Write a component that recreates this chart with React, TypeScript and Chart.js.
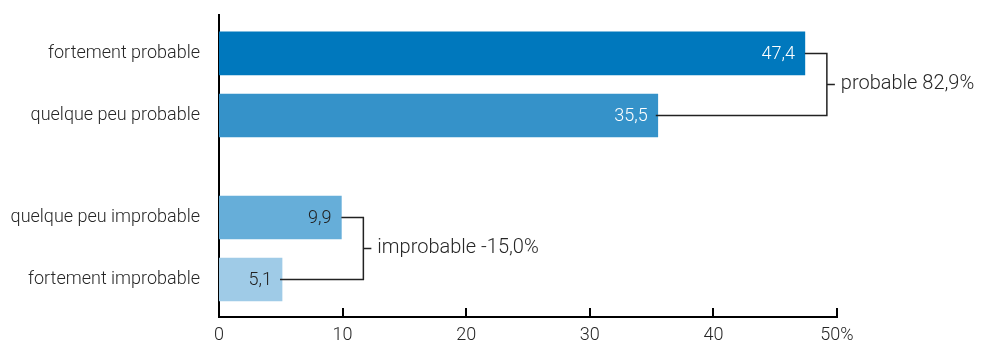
import React, { useEffect, useRef } from 'react';
import { Chart, registerables } from 'chart.js';

Chart.register(...registerables);

// Survey answers and their shares (%)
const categories = [
  'fortement probable',
  'quelque peu probable',
  'quelque peu improbable',
  'fortement improbable',
];
const shares = [47.4, 35.5, 9.9, 5.1];
const xTickValues = [0, 10, 20, 30, 40, 50];
const groupNames = ['probable', 'improbable'];
const groupSigns = ['', '-'];
const groupMembers = [
  [0, 1],
  [2, 3],
];

// Row centres on the value axis; the second pair is set further apart
const ROW_POS = [0, 1, 2.645, 3.645];
const Y_MIN = -0.62;
const Y_MAX = 4.25;
const BAR_COLORS = ['#0078bd', '#3592c9', '#66aed9', '#9fcbe7'];
const VALUE_COLORS = ['#ffffff', '#ffffff', '#222222', '#222222'];
const FONT = 'Roboto';
const TEXT = '#262626';

const fmt = (v: number) => v.toFixed(1).replace('.', ',');

const decorPlugin = {
  id: 'decor',
  afterDatasetsDraw(chart: any) {
    const ctx = chart.ctx as CanvasRenderingContext2D;
    const meta = chart.getDatasetMeta(0);
    ctx.save();
    ctx.textBaseline = 'middle';

    // values written inside the bar ends
    ctx.font = `300 18px ${FONT}`;
    ctx.textAlign = 'right';
    meta.data.forEach((bar: any, i: number) => {
      ctx.fillStyle = VALUE_COLORS[i];
      ctx.fillText(fmt(shares[i]), bar.x - 10, bar.y + 1);
    });

    // brackets joining each pair with its total
    ctx.font = `300 20px ${FONT}`;
    ctx.strokeStyle = '#222222';
    ctx.lineWidth = 1.5;
    groupMembers.forEach(([a, b], g) => {
      const A = meta.data[a];
      const B = meta.data[b];
      const xb = Math.max(A.x, B.x) + 22;
      const ym = (A.y + B.y) / 2;
      ctx.beginPath();
      ctx.moveTo(A.x, A.y);
      ctx.lineTo(xb, A.y);
      ctx.lineTo(xb, B.y);
      ctx.lineTo(B.x - 2, B.y);
      ctx.moveTo(xb, ym);
      ctx.lineTo(xb + 8, ym);
      ctx.stroke();
      const total = shares[a] + shares[b];
      ctx.fillStyle = TEXT;
      ctx.textAlign = 'left';
      ctx.fillText(`${groupNames[g]} ${groupSigns[g]}${fmt(total)}%`, xb + 14, ym);
    });
    ctx.restore();
  },
  afterDraw(chart: any) {
    // tick marks pointing up into the plot
    const ctx = chart.ctx as CanvasRenderingContext2D;
    const xs = chart.scales.x;
    const bottom = chart.chartArea.bottom;
    ctx.save();
    ctx.strokeStyle = '#000000';
    ctx.lineWidth = 2;
    xTickValues.forEach((v) => {
      if (v === 0) return;
      const px = Math.round(xs.getPixelForValue(v));
      ctx.beginPath();
      ctx.moveTo(px, bottom);
      ctx.lineTo(px, bottom - 9);
      ctx.stroke();
    });
    ctx.restore();
  },
};

export default function App() {
  const canvasRef = useRef<HTMLCanvasElement | null>(null);

  useEffect(() => {
    document.body.style.margin = '0';
    const canvas = canvasRef.current;
    if (!canvas) return;
    const chart = new Chart(canvas, {
      type: 'bar',
      data: {
        datasets: [
          {
            data: shares.map((v, i) => ({ x: v, y: ROW_POS[i] })) as any,
            backgroundColor: BAR_COLORS,
            borderWidth: 0,
            barThickness: 43,
          },
        ],
      },
      options: {
        indexAxis: 'y',
        animation: false,
        responsive: false,
        maintainAspectRatio: false,
        layout: { padding: { top: 15, right: 152, left: 0, bottom: 0 } },
        plugins: { legend: { display: false }, tooltip: { enabled: false } },
        scales: {
          x: {
            type: 'linear',
            position: 'bottom',
            min: 0,
            max: 50,
            offset: false,
            grid: { display: false, drawTicks: false, offset: false },
            border: { display: true, color: '#000000', width: 2 },
            ticks: {
              padding: 9,
              color: TEXT,
              font: { family: FONT, size: 18, weight: '300' as any, lineHeight: 1 },
              maxRotation: 0,
              callback: (v: any) => (v === 50 ? '50%' : String(v)),
            },
            afterBuildTicks: (s: any) => {
              s.ticks = xTickValues.map((v) => ({ value: v }));
              s.min = 0;
              s.max = 50;
            },
            afterFit: (s: any) => {
              s.height = 28;
              s.paddingLeft = 0;
              s.paddingRight = 0;
            },
          },
          y: {
            type: 'linear',
            reverse: true,
            min: Y_MIN,
            max: Y_MAX,
            bounds: 'data',
            offset: false,
            grid: { display: false, drawTicks: false, offset: false },
            border: { display: true, color: '#000000', width: 2 },
            ticks: {
              autoSkip: false,
              padding: 19,
              color: TEXT,
              font: { family: FONT, size: 18, weight: '300' as any, lineHeight: 1 },
              callback: (_v: any, i: number) => categories[i] ?? '',
            },
            afterBuildTicks: (s: any) => {
              s.ticks = ROW_POS.map((v) => ({ value: v }));
              s.min = Y_MIN;
              s.max = Y_MAX;
            },
            afterFit: (s: any) => {
              s.width = 219;
              s.paddingTop = 0;
              s.paddingBottom = 0;
            },
          },
        },
      } as any,
      plugins: [decorPlugin],
    });
    return () => chart.destroy();
  }, []);

  return (
    <canvas
      ref={canvasRef}
      width={989}
      height={345}
      style={{ display: 'block', width: 989, height: 345 }}
    />
  );
}
